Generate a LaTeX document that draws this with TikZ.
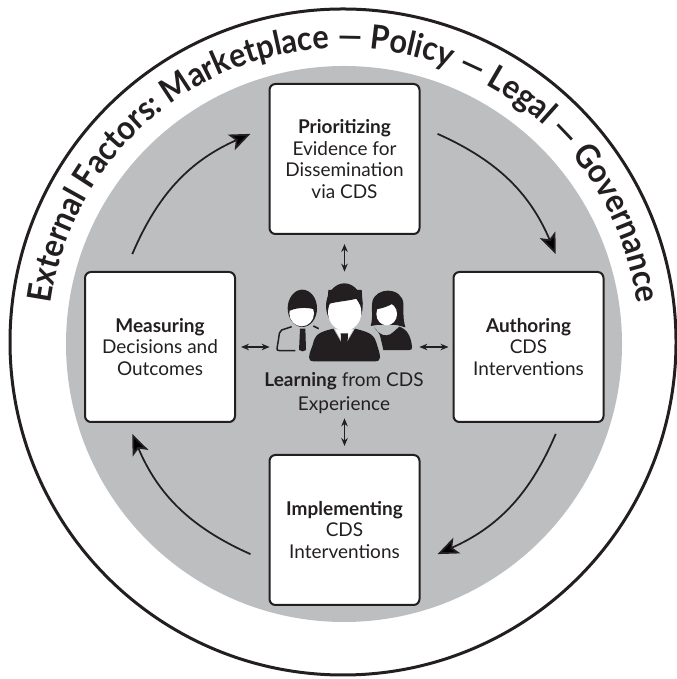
\documentclass[tikz,border=0pt]{standalone}
\usepackage{fontspec}
\setmainfont{Lato}
\usetikzlibrary{arrows.meta,calc,decorations.text}
\definecolor{ink}{HTML}{231F20}
\definecolor{disc}{HTML}{BCBEC0}
\tikzset{
	stagebox/.style={draw=ink,line width=0.04cm,fill=white,rounded corners=0.12cm,minimum size=3cm,align=center,text=ink,font=\fontsize{10.8pt}{12.2pt}\selectfont},
	loopline/.style={draw=ink,line width=0.035cm,-{Stealth[length=0.42cm,width=0.34cm,inset=0.1cm]}},
	twoway/.style={draw=ink,line width=0.03cm,{Stealth[length=0.16cm,width=0.13cm]}-{Stealth[length=0.16cm,width=0.13cm]}},
}
\begin{document}
\begin{tikzpicture}
				\useasboundingbox (0,0) rectangle (13.52,13.58);
				% Cercles
				\coordinate (mid) at (6.88,6.7);
				\draw [ink,line width=0.06cm] (6.86,6.74) circle (6.66);
				\fill [disc] (mid) circle (5.56);
				\path [decorate,decoration={text along path,text align=center,text color=ink,
					text={|\fontsize{19pt}{22pt}\selectfont\bfseries\addfontfeature{FakeStretch=0.92}|External Factors: Marketplace — Policy — Legal — Governance}}]
					($(mid)+(178:5.92)$) arc (178:2:5.92);
				% Cases
				\node [stagebox] (prior) at (6.89,10.4) {\textbf{Prioritizing}\\Evidence for\\Dissemination\\via CDS};
				\node [stagebox] (author) at (10.57,6.64) {\textbf{Authoring}\\CDS\\Interventions};
				\node [stagebox] (impl) at (6.89,2.98) {\textbf{Implementing}\\CDS\\Interventions};
				\node [stagebox] (measure) at (3.2,6.64) {\textbf{Measuring}\\Decisions and\\Outcomes};
				\node [minimum width=2.98cm,minimum height=2.92cm,inner sep=0] (hub) at (6.89,6.68) {};
				\node [align=center,text=ink,font=\fontsize{10.8pt}{13.4pt}\selectfont] (learn) at (6.88,5.72) {\textbf{Learning} from CDS\\Experience};
				% Fl\`eches
				\coordinate (a1) at ($(mid)+(157:4.6)$);
				\coordinate (a2) at ($(mid)+(114:4.6)$);
				\coordinate (b1) at ($(mid)+(66:4.6)$);
				\coordinate (b2) at ($(mid)+(23:4.6)$);
				\coordinate (c1) at ($(mid)+(-23:4.6)$);
				\coordinate (c2) at ($(mid)+(-66:4.6)$);
				\coordinate (d1) at ($(mid)+(-114:4.6)$);
				\coordinate (d2) at ($(mid)+(-157:4.6)$);
				\draw [loopline] (a1) to [bend left=21.5] (a2);
				\draw [loopline] (b1) to [bend left=21.5] (b2);
				\draw [loopline] (c1) to [bend left=21.5] (c2);
				\draw [loopline] (d1) to [bend left=21.5] (d2);
				\draw [twoway,shorten <=0.18cm] (prior.south) -- (prior.south |- hub.north);
				\draw [twoway,shorten <=0.16cm] (impl.north) -- (impl.north |- hub.south);
				\draw [twoway,shorten <=0.1cm] (measure.east) -- (measure.east -| hub.west);
				\draw [twoway,shorten <=0.08cm] (author.west) -- (author.west -| hub.east);
				% Personnages
				\begin{scope}[shift={(4.8,8.18)},x=0.00667cm,y=-0.00667cm]
					\fill [ink] (187,115) ellipse (44 and 56);
					\fill [white] (185,130) ellipse (37 and 39);
					\fill [ink] (150,122) .. controls (170,112) and (205,112) .. (222,118) -- (222,90) -- (150,90) -- cycle;
					\draw [ink,line width=0.03cm,line join=round] (155,170) -- (125,180) .. controls (118,185) and (118,190) .. (116,205) -- (111,235) .. controls (110,240) and (112,242) .. (120,242) -- (166,242);
					\draw [ink,line width=0.03cm] (220,168) -- (236,176);
					\fill [ink] (180,176) -- (196,176) -- (198,240) -- (188,244) -- (177,240) -- cycle;
					% femme
					\fill [ink] (392,168) .. controls (400,140) and (393,115) .. (397,95) .. controls (402,72) and (425,62) .. (443,62) .. controls (470,62) and (488,78) .. (490,100) .. controls (491,125) and (488,145) .. (496,172) -- (470,165) -- (410,165) -- cycle;
					\fill [white] (440,132) ellipse (31 and 34);
					\fill [ink] (408,118) .. controls (430,115) and (455,105) .. (465,95) -- (475,125) -- (480,90) -- (420,85) -- cycle;
					\fill [ink] (402,172) .. controls (412,185) and (425,198) .. (440,196) .. controls (455,195) and (465,180) .. (478,170) .. controls (500,178) and (512,195) .. (516,230) .. controls (517,238) and (514,240) .. (508,240) -- (430,240) -- (422,205) .. controls (420,190) and (410,180) .. (402,172) -- cycle;
					% homme du milieu
					\fill [ink] (313,108) ellipse (55 and 68);
					\fill [white] (314,127) ellipse (50 and 55);
					\fill [ink] (262,104) .. controls (275,96) and (320,94) .. (350,86) -- (360,104) -- (368,104) -- (365,60) -- (265,60) -- cycle;
					\fill [ink] (280,176) -- (312,232) -- (345,176) .. controls (380,185) and (400,190) .. (408,215) .. controls (414,235) and (420,250) .. (420,262) .. controls (420,270) and (415,274) .. (405,274) -- (222,274) .. controls (212,274) and (206,270) .. (207,262) .. controls (208,245) and (218,230) .. (222,210) .. controls (228,190) and (250,183) .. (280,176) -- cycle;
					\fill [white] (285,178) -- (312,226) -- (340,178) -- cycle;
					\fill [ink] (302,190) -- (324,190) -- (322,230) -- (313,240) -- (304,230) -- cycle;
				\end{scope}
\end{tikzpicture}
\end{document}
